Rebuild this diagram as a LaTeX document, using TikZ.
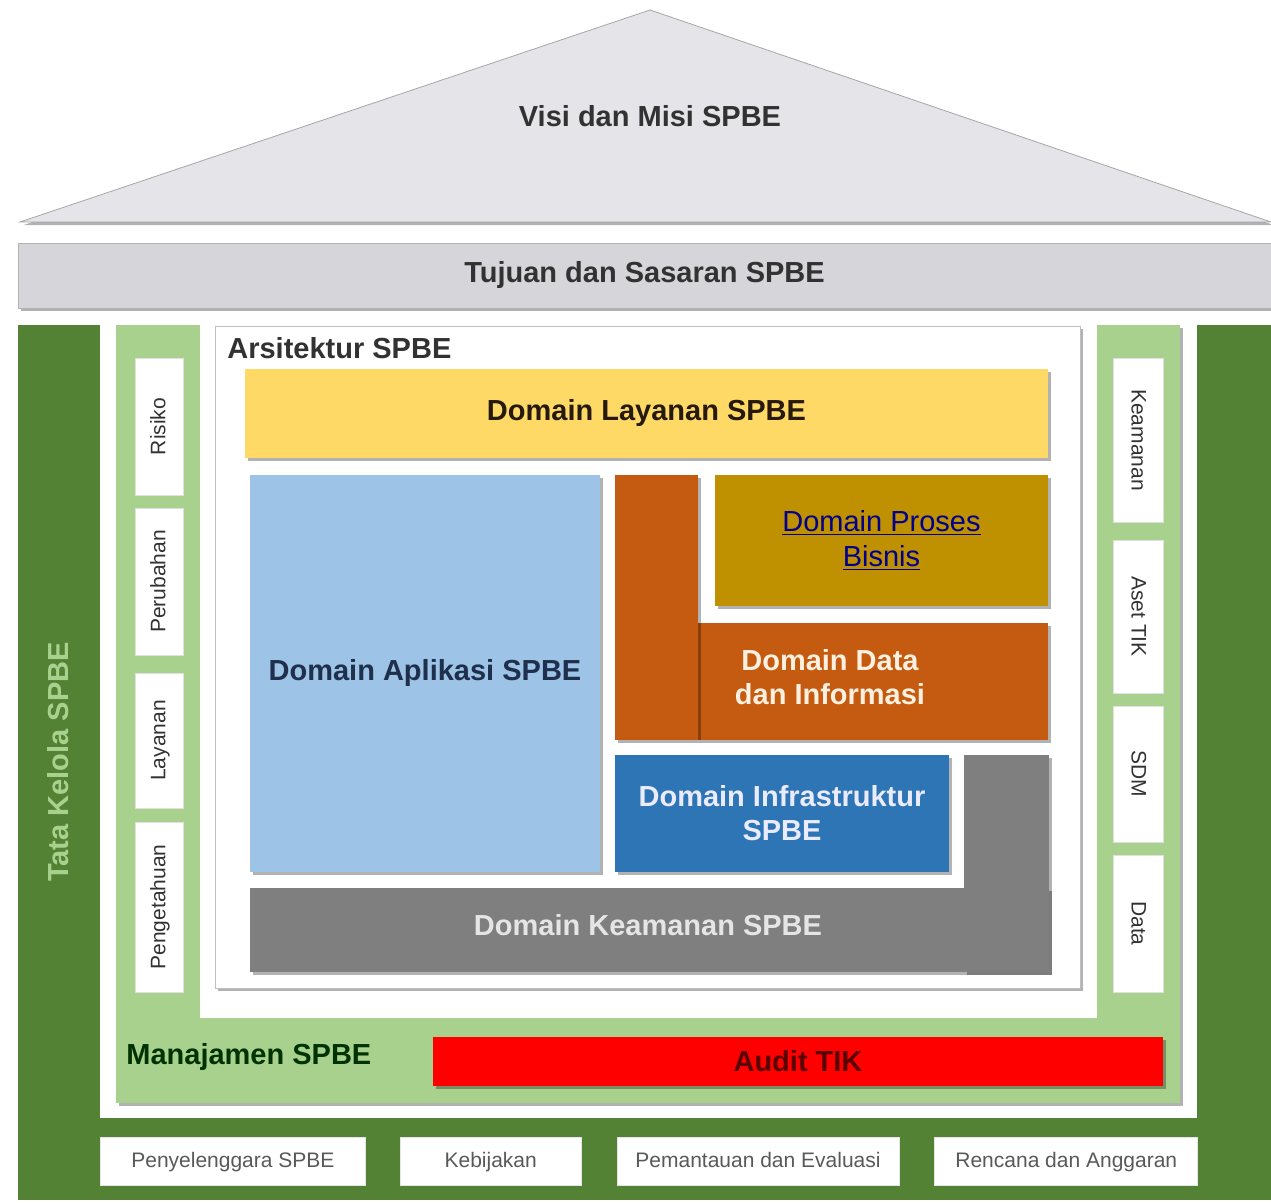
\documentclass[tikz,border=0pt]{standalone}
\usepackage{fontspec}
\setmainfont{Liberation Sans}
\usepackage{tikz}
\usetikzlibrary{positioning,shadows}
\definecolor{roofc}{RGB}{229,229,233}
\definecolor{tujc}{RGB}{214,214,218}
\definecolor{ink}{RGB}{50,50,50}
\definecolor{dkgrn}{RGB}{84,130,53}
\definecolor{ltgrn}{RGB}{169,209,142}
\definecolor{layY}{RGB}{255,217,102}
\definecolor{aplB}{RGB}{157,195,230}
\definecolor{datO}{RGB}{197,90,17}
\definecolor{prsG}{RGB}{191,144,0}
\definecolor{infB}{RGB}{46,117,182}
\definecolor{kmnG}{RGB}{127,127,127}
\definecolor{audR}{RGB}{255,0,0}
\tikzset{
  shd/.style={drop shadow={shadow xshift=1.6pt,shadow yshift=-1.6pt,opacity=.3,fill=black}},
  big/.style={font=\fontsize{14.5}{17}\selectfont\bfseries,align=center,inner sep=0pt},
  dom/.style={big,shd,minimum width=#1},
  sidelbl/.style={fill=white,draw=black!12,inner sep=0pt,minimum height=24pt,
    text height=1.6ex,text depth=.4ex,font=\fontsize{10.5}{12}\selectfont,text=ink},
  botlbl/.style={fill=white,draw=black!10,inner sep=0pt,minimum height=24pt,
    text height=1.6ex,text depth=.4ex,font=\fontsize{10.5}{12}\selectfont,text=black!65},
}
\begin{document}
\begin{tikzpicture}[x=0.5pt,y=-0.5pt]
  \useasboundingbox (0,0) rectangle (1271,1203);
  % atap dan tujuan
  \filldraw[fill=roofc,draw=black!35,shd] (20,222) -- (650,10) -- (1271,222) -- cycle;
  \node[big,text=ink] (visi) at (650,116) {Visi dan Misi SPBE};
  \node[fill=tujc,draw=black!30,shd,minimum width=626.5pt,minimum height=32.5pt,inner sep=0pt]
    (tuj) at (644.5,275.5) {};
  \node[big,text=ink] at (tuj) {Tujuan dan Sasaran SPBE};

  % tata kelola (hijau tua)
  \fill[dkgrn] (18,325) rectangle (100,1200);
  \fill[dkgrn] (100,1118) rectangle (1271,1200);
  \fill[dkgrn] (1197,325) rectangle (1271,1118);
  \node[big,text=ltgrn,rotate=90] (tatakel) at (58,762) {Tata Kelola SPBE};

  % manajemen (hijau muda)
  \fill[ltgrn,shd] (116,325) rectangle (1180,1103);
  \fill[white] (200,325) rectangle (1097,1018);
  \node[big,text=green!20!black,anchor=west] (manaj) at (126,1057) {Manajamen SPBE};
  \node[dom=365pt,fill=audR,minimum height=24.5pt,text=red!35!black] (audit) at (798,1061.5) {Audit TIK};

  \node[sidelbl,rotate=90,minimum width=68.5pt] (risiko) at (159,426.5) {Risiko};
  \node[sidelbl,rotate=90,minimum width=73.5pt] (perub) at (159,581.5) {Perubahan};
  \node[sidelbl,rotate=90,minimum width=67.5pt] (layn) at (159,740.5) {Layanan};
  \node[sidelbl,rotate=90,minimum width=85pt] (penget) at (159,907) {Pengetahuan};
  \node[sidelbl,rotate=-90,minimum width=82pt,minimum height=25pt] (keam) at (1138,440) {Keamanan};
  \node[sidelbl,rotate=-90,minimum width=76.5pt,minimum height=25pt] (aset) at (1138,616.5) {Aset TIK};
  \node[sidelbl,rotate=-90,minimum width=68pt,minimum height=25pt] (sdm) at (1138,774) {SDM};
  \node[sidelbl,rotate=-90,minimum width=68.5pt,minimum height=25pt] (data) at (1138,923.5) {Data};

  % arsitektur
  \filldraw[fill=white,draw=black!25,shd] (215,326) rectangle (1080,988);
  \node[big,text=ink,anchor=west] (arsi) at (227,348) {Arsitektur SPBE};
  \node[dom=401.5pt,fill=layY,minimum height=44.5pt,text=black!80!brown] (layanan) at (646.5,413.5) {Domain Layanan SPBE};
  \node[dom=175pt,fill=aplB,minimum height=198.5pt,text={rgb,255:red,30;green,48;blue,75}] (aplik) at (425,673.5) {Domain Aplikasi SPBE};
  % domain data (bentuk L)
  \fill[datO,shd] (698,623) rectangle (1048,740);
  \fill[datO,shd] (615,475) rectangle (698,740);
  \node[big,text=orange!12!white] (datainf) at (830,677) {Domain Data\\dan Informasi};
  \node[dom=166.5pt,fill=prsG,minimum height=65.5pt,font=\fontsize{14.5}{17.5}\selectfont,text=blue!55!black]
    (proses) at (881.5,540.5) {\underline{Domain Proses}\\\underline{Bisnis}};
  % domain keamanan (bentuk L)
  \fill[kmnG,shd] (250,888) rectangle (1049,972);
  \fill[kmnG,shd] (964,755) rectangle (1049,972);
  \node[big,text=black!10] (keamdom) at (648,925) {Domain Keamanan SPBE};
  \node[dom=167pt,fill=infB,minimum height=58.5pt,text=blue!8!white] (infra) at (782,813.5) {Domain Infrastruktur\\SPBE};

  % baris bawah
  \node[botlbl,minimum width=132.5pt,anchor=north west] (penyel) at (100,1137) {Penyelenggara SPBE};
  \node[botlbl,minimum width=90.5pt,right=17pt of penyel] (kebij) {Kebijakan};
  \node[botlbl,minimum width=141pt,right=17.5pt of kebij] (pantau) {Pemantauan dan Evaluasi};
  \node[botlbl,minimum width=131.5pt,right=17.5pt of pantau] (rencana) {Rencana dan Anggaran};
\end{tikzpicture}
\end{document}
